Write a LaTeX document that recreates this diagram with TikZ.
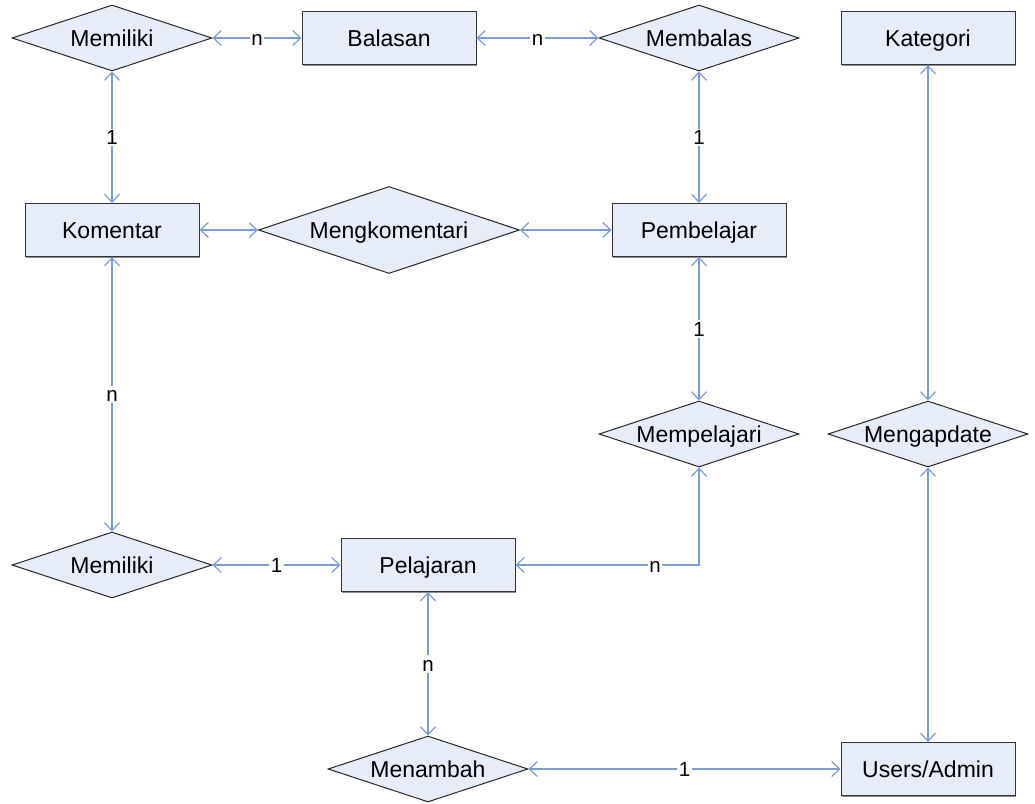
\documentclass[tikz,border=0pt]{standalone}
\usepackage{fontspec}
\setmainfont{Liberation Sans}
\usetikzlibrary{shapes.geometric,arrows.meta,shadows}
\definecolor{entfill}{RGB}{230,236,248}
\definecolor{linkblue}{RGB}{122,156,212}
\begin{document}
\begin{tikzpicture}[x=1pt,y=-1pt,
  >={Straight Barb[length=8pt,width=15pt]},
  entity/.style={rectangle, draw=black!80, fill=entfill, line width=1pt,
    minimum width=174pt, minimum height=53pt, inner sep=0pt,
    text height=16.5pt, text depth=0pt,
    general shadow={fill=black!45, shadow xshift=1pt, shadow yshift=-1.2pt},
    font=\fontsize{23}{27}\selectfont},
  relation/.style={diamond, draw=black!85, fill=entfill, line width=1pt,
    minimum width=200pt, minimum height=66pt, inner sep=0pt, aspect=3,
    text height=16.5pt, text depth=0pt,
    font=\fontsize{23}{27}\selectfont},
  link/.style={draw=linkblue, line width=1.2pt, <->},
  card/.style={fill=white, inner sep=1.5pt, text height=14.5pt, text depth=0pt,
    font=\fontsize{20.5}{24}\selectfont}]

\useasboundingbox (0,0) rectangle (1035,803);

% relationships
\node[relation] (memA)   at (112,38)  {Memiliki};
\node[relation] (membal) at (699,38)  {Membalas};
\node[relation, minimum width=261pt, minimum height=87pt] (mengk) at (389,230) {Mengkomentari};
\node[relation] (mempel) at (699,434) {Mempelajari};
\node[relation] (mengap) at (928,434) {Mengapdate};
\node[relation] (memB)   at (112,565) {Memiliki};
\node[relation] (menam)  at (428,769) {Menambah};

% entities
\node[entity] (balasan)  at (389,38)  {Balasan};
\node[entity] (kategori) at (928,38)  {Kategori};
\node[entity] (komentar) at (112,230) {Komentar};
\node[entity] (pembel)   at (699,230) {Pembelajar};
\node[entity] (pelajaran) at (428,565) {Pelajaran};
\node[entity] (users)    at (928,769) {Users/Admin};

% connectors with cardinalities
\draw[link] (memA) -- node[card]{n} (balasan);
\draw[link] (balasan) -- node[card]{n} (membal);
\draw[link] (memA) -- node[card]{1} (komentar);
\draw[link] (membal) -- node[card]{1} (pembel);
\draw[link] (komentar) -- (mengk);
\draw[link] (mengk) -- (pembel);
\draw[link] (kategori) -- (mengap);
\draw[link] (pembel) -- node[card]{1} (mempel);
\draw[link] (komentar) -- node[card]{n} (memB);
\draw[link] (memB) -- node[card]{1} (pelajaran);
\draw[link] (pelajaran.east) -| node[card, pos=0.38]{n} (mempel.south);
\draw[link] (mengap) -- (users);
\draw[link] (pelajaran) -- node[card]{n} (menam);
\draw[link] (menam) -- node[card]{1} (users);
\end{tikzpicture}
\end{document}
